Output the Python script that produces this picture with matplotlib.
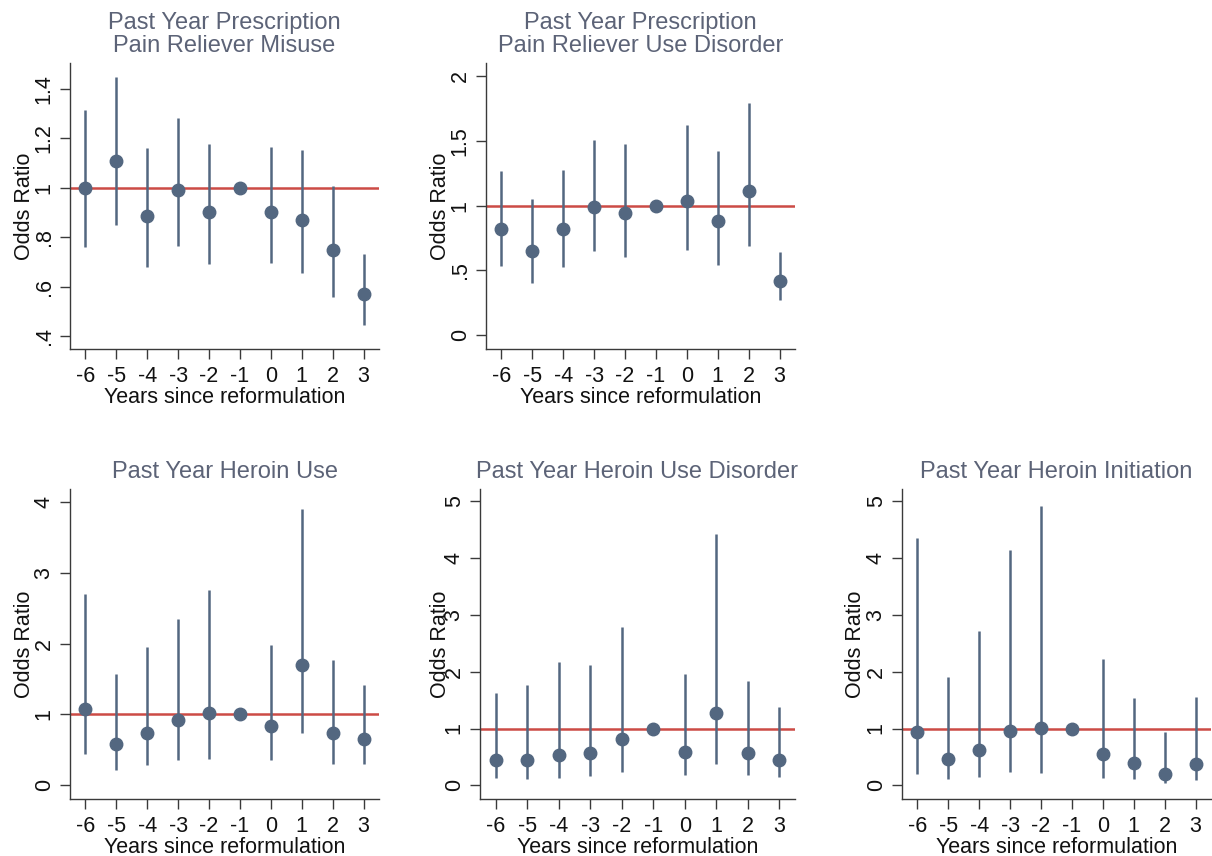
import matplotlib
matplotlib.use("Agg")
import matplotlib.pyplot as plt
import numpy as np

plt.rcParams['font.family'] = ['Liberation Sans', 'DejaVu Sans']
plt.rcParams['axes.unicode_minus'] = False

years = [-6, -5, -4, -3, -2, -1, 0, 1, 2, 3]
year_labels = ["-6", "-5", "-4", "-3", "-2", "-1", "0", "1", "2", "3"]

# punto estimado, limite inferior, limite superior
misuse_or = [1.000, 1.108, 0.886, 0.989, 0.902, 1.0, 0.901, 0.870, 0.748, 0.569]
misuse_lo = [0.759, 0.848, 0.677, 0.764, 0.691, 1.0, 0.696, 0.656, 0.557, 0.445]
misuse_hi = [1.316, 1.449, 1.160, 1.281, 1.176, 1.0, 1.166, 1.152, 1.008, 0.732]

prud_or = [0.821, 0.651, 0.821, 0.991, 0.945, 1.0, 1.032, 0.878, 1.112, 0.417]
prud_lo = [0.533, 0.404, 0.530, 0.649, 0.605, 1.0, 0.656, 0.541, 0.690, 0.273]
prud_hi = [1.264, 1.048, 1.277, 1.508, 1.472, 1.0, 1.619, 1.423, 1.794, 0.644]

heroin_or = [1.082, 0.584, 0.739, 0.918, 1.021, 1.0, 0.838, 1.699, 0.734, 0.654]
heroin_lo = [0.438, 0.212, 0.282, 0.362, 0.376, 1.0, 0.353, 0.744, 0.306, 0.301]
heroin_hi = [2.696, 1.576, 1.948, 2.348, 2.762, 1.0, 1.981, 3.892, 1.765, 1.421]

hud_or = [0.441, 0.441, 0.541, 0.571, 0.812, 1.0, 0.588, 1.276, 0.565, 0.447]
hud_lo = [0.124, 0.106, 0.135, 0.159, 0.235, 1.0, 0.182, 0.371, 0.182, 0.147]
hud_hi = [1.618, 1.765, 2.171, 2.112, 2.794, 1.0, 1.965, 4.429, 1.841, 1.371]

init_or = [0.935, 0.465, 0.618, 0.959, 1.012, 1.0, 0.553, 0.400, 0.200, 0.371]
init_lo = [0.206, 0.118, 0.147, 0.229, 0.212, 1.0, 0.135, 0.106, 0.047, 0.088]
init_hi = [4.353, 1.900, 2.724, 4.153, 4.918, 1.0, 2.229, 1.541, 0.947, 1.559]

navy = "#536780"
red = "#cc4b45"
titlec = "#5c6377"
axc = "#3a3a3a"

W, H = 1212, 856
fig = plt.figure(figsize=(W / 100, H / 100), dpi=100)

def px_axes(x0, y0, x1, y1):
    return fig.add_axes([x0 / W, 1 - y1 / H, (x1 - x0) / W, (y1 - y0) / H])

paneles = [
    ("Past Year Prescription\nPain Reliever Misuse", misuse_or, misuse_lo, misuse_hi,
     (70, 63, 379, 349), (0.347, 1.505), [0.4, 0.6, 0.8, 1, 1.2, 1.4],
     [".4", ".6", ".8", "1", "1.2", "1.4"], -0.113),
    ("Past Year Prescription\nPain Reliever Use Disorder", prud_or, prud_lo, prud_hi,
     (486, 63, 795, 349), (-0.106, 2.10), [0, 0.5, 1, 1.5, 2],
     ["0", ".5", "1", "1.5", "2"], -0.113),
    ("Past Year Heroin Use", heroin_or, heroin_lo, heroin_hi,
     (70, 489, 379, 799), (-0.193, 4.18), [0, 1, 2, 3, 4],
     ["0", "1", "2", "3", "4"], -0.113),
    ("Past Year Heroin Use Disorder", hud_or, hud_lo, hud_hi,
     (480, 489, 795, 799), (-0.241, 5.22), [0, 1, 2, 3, 4, 5],
     ["0", "1", "2", "3", "4", "5"], -0.092),
    ("Past Year Heroin Initiation", init_or, init_lo, init_hi,
     (902, 489, 1211, 799), (-0.241, 5.22), [0, 1, 2, 3, 4, 5],
     ["0", "1", "2", "3", "4", "5"], -0.116),
]

for titulo, est, lo, hi, caja, ylim, yt, ytl, labx in paneles:
    ax = px_axes(*caja)
    ax.axhline(1, color=red, lw=1.8, zorder=1)
    ax.vlines(years, lo, hi, color=navy, lw=1.8, zorder=2)
    ax.plot(years, est, "o", color=navy, markersize=9, zorder=3)
    ax.set_xlim(-6.5, 3.5)
    ax.set_ylim(*ylim)
    ax.set_xticks(years)
    ax.set_xticklabels(year_labels)
    ax.set_yticks(yt)
    ax.set_yticklabels(ytl, rotation=90, va="center")
    ax.spines["top"].set_visible(False)
    ax.spines["right"].set_visible(False)
    for s in ("left", "bottom"):
        ax.spines[s].set_color(axc)
        ax.spines[s].set_linewidth(1.0)
    ax.tick_params(axis="both", colors=axc, labelcolor="#111111", labelsize=15.5,
                   length=7, width=1.0)
    ax.tick_params(axis="x", pad=5)
    ax.tick_params(axis="y", pad=4)
    ax.set_xlabel("Years since reformulation", fontsize=15.5, color="#111111", labelpad=0)
    ax.set_ylabel("Odds Ratio", fontsize=15.5, color="#111111")
    ax.yaxis.set_label_coords(labx, 0.5)
    ax.set_title(titulo, fontsize=17, color=titlec, pad=8, linespacing=1.05)

fig.savefig("out.png", dpi=100, facecolor="white")
